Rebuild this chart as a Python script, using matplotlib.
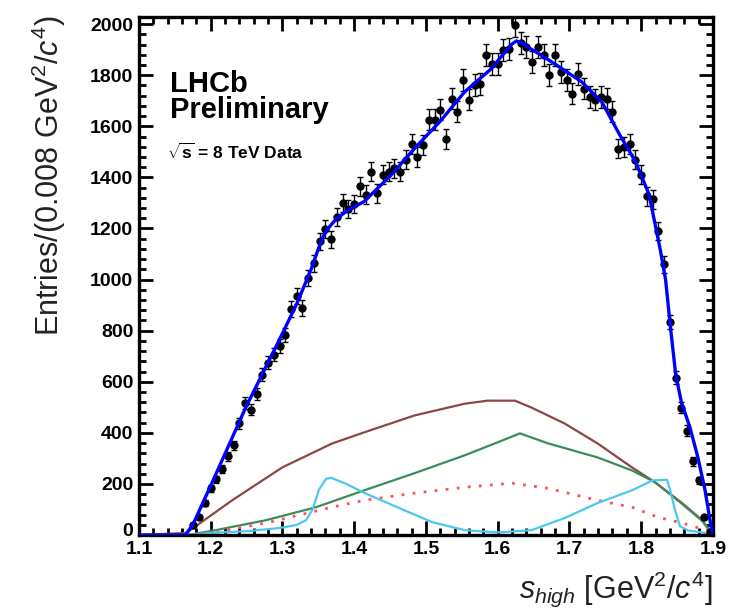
import numpy as np
import matplotlib
matplotlib.use("Agg")
import matplotlib.pyplot as plt
from matplotlib.ticker import MultipleLocator
from matplotlib.transforms import ScaledTranslation

# ROOT-like look: Helvetica metrics -> Liberation Sans
plt.rcParams['font.family'] = ['Liberation Sans', 'DejaVu Sans']
plt.rcParams['mathtext.fontset'] = 'custom'
plt.rcParams['mathtext.rm'] = 'Liberation Sans'
plt.rcParams['mathtext.it'] = 'Liberation Sans:italic'
plt.rcParams['mathtext.bf'] = 'Liberation Sans:bold'

# binning: 0.008 GeV^2/c^4 from 1.1 to 1.9, first filled bin is number 9
bin_width = 0.008
x_start = 1.1
first_bin = 9

# data counts per bin
counts = [39, 70, 125, 183, 218, 257, 308, 351, 437, 518,
          491, 553, 628, 675, 706, 741, 784, 885, 936, 889,
          1006, 1064, 1150, 1197, 1158, 1244, 1300, 1277, 1296, 1365,
          1333, 1423, 1337, 1411, 1423, 1435, 1423, 1470, 1532, 1481,
          1528, 1626, 1626, 1665, 1552, 1708, 1657, 1782, 1704, 1762,
          1766, 1879, 1844, 1844, 1899, 1903, 1996, 1925, 1910, 1852,
          1910, 1879, 1801, 1879, 1813, 1782, 1727, 1805, 1747, 1715,
          1704, 1715, 1708, 1657, 1513, 1520, 1532, 1470, 1411, 1326,
          1314, 1189, 1060, 834, 616, 499, 409, 288, 214, 70, 10]

# total fit (blue)
total_x = [1.100, 1.165, 1.176, 1.202, 1.249, 1.295, 1.320, 1.340, 1.350, 1.357,
           1.365, 1.375, 1.389, 1.414, 1.450, 1.484, 1.520, 1.554, 1.591, 1.610,
           1.620, 1.626, 1.633, 1.645, 1.661, 1.690, 1.717, 1.745, 1.770, 1.792,
           1.811, 1.827, 1.834, 1.840, 1.848, 1.856, 1.868, 1.879, 1.889, 1.897,
           1.900]
total_y = [0, 0, 45, 205, 500, 760, 905, 1040, 1120, 1170,
           1205, 1237, 1267, 1306, 1405, 1513, 1620, 1735, 1825, 1890,
           1922, 1934, 1928, 1905, 1878, 1825, 1774, 1696, 1567, 1462,
           1333, 1111, 1000, 834, 630, 520, 421, 304, 175, 40,
           0]

# brown component
brown_x = [1.100, 1.166, 1.230, 1.300, 1.369, 1.414, 1.484, 1.554, 1.586, 1.624,
           1.647, 1.693, 1.739, 1.787, 1.819, 1.857, 1.885, 1.900]
brown_y = [0, 8, 136, 265, 358, 402, 468, 514, 526, 526,
           499, 437, 359, 265, 207, 125, 58, 0]

# green component
green_x = [1.100, 1.168, 1.207, 1.277, 1.347, 1.414, 1.484, 1.554, 1.600, 1.631,
           1.670, 1.739, 1.787, 1.819, 1.857, 1.885, 1.900]
green_y = [0, 0, 19, 58, 109, 175, 242, 312, 363, 398,
           359, 304, 253, 207, 122, 55, 0]

# red dotted component
red_x = [1.100, 1.168, 1.207, 1.277, 1.323, 1.369, 1.414, 1.484, 1.554, 1.620,
         1.670, 1.739, 1.787, 1.823, 1.857, 1.899, 1.900]
red_y = [0, 0, 12, 47, 78, 109, 136, 164, 187, 203,
         183, 136, 109, 70, 47, 12, 0]

# cyan component
cyan_x = [1.100, 1.168, 1.200, 1.250, 1.295, 1.319, 1.333, 1.342, 1.351, 1.361,
          1.368, 1.389, 1.414, 1.460, 1.508, 1.554, 1.600, 1.647, 1.693, 1.739,
          1.787, 1.816, 1.836, 1.840, 1.847, 1.854, 1.865, 1.885, 1.900]
cyan_y = [0, 0, 8, 15, 27, 39, 58, 100, 178, 220,
          224, 200, 165, 109, 51, 19, 10, 19, 66, 125,
          175, 214, 216, 180, 100, 35, 18, 10, 0]

counts = np.array(counts)
centers = x_start + bin_width * (np.arange(len(counts)) + first_bin + 0.5)
errors = np.sqrt(counts)

fig = plt.figure(figsize=(7.31, 6.13), dpi=100)
ax = fig.add_axes([0.190, 0.1272, 0.7853, 0.8451])

ax.plot(brown_x, brown_y, color='#8c4646', lw=1.6, zorder=2)
ax.plot(green_x, green_y, color='#3c8c5a', lw=1.6, zorder=2)
ax.plot(red_x, red_y, color='#ff5050', lw=2.0, linestyle=(0, (1, 3)), zorder=2)
ax.plot(cyan_x, cyan_y, color='#4cc8f0', lw=1.6, zorder=2)
ax.errorbar(centers, counts, yerr=errors, fmt='o', color='black', ms=5,
            elinewidth=1, capsize=2, capthick=1, zorder=3)
ax.plot(total_x, total_y, color='#0000ff', lw=2.4, zorder=4)

ax.set_xlim(1.1, 1.9)
ax.set_ylim(0, 2028)
ax.xaxis.set_major_locator(MultipleLocator(0.1))
ax.xaxis.set_minor_locator(MultipleLocator(0.02))
ax.yaxis.set_major_locator(MultipleLocator(200))
ax.yaxis.set_minor_locator(MultipleLocator(40))
ax.tick_params(which='both', direction='in', top=True, right=True, width=2)
ax.tick_params(which='major', length=10)
ax.tick_params(which='minor', length=5)
ax.tick_params(axis='x', pad=4)
ax.tick_params(axis='y', pad=4)
for sp in ax.spines.values():
    sp.set_linewidth(2.4)

ax.set_xticks(np.arange(1.1, 1.91, 0.1))
ax.set_xticklabels(['%.1f' % v for v in np.arange(1.1, 1.91, 0.1)],
                   fontsize=14, fontweight='bold')
ax.set_yticks(np.arange(0, 2001, 200))
ylabels = ax.set_yticklabels([str(v) for v in range(0, 2001, 200)],
                             fontsize=14, fontweight='bold')
# lift the "0" a little so it does not run into "1.1"
ylabels[0].set_transform(ylabels[0].get_transform() +
                         ScaledTranslation(0, 4 / 72, fig.dpi_scale_trans))

# labels
fig.text(0.067, 0.975, r'Entries/(0.008 GeV$^{2}$/$c^{4}$)', rotation=90,
         ha='center', va='top', fontsize=22, color='#222222')
fig.text(713 / 731, 1 - 598 / 613, r'$s_{high}$ [GeV$^{2}$/$c^{4}$]',
         ha='right', va='baseline', fontsize=22, color='#222222')

ax.text(170 / 731, 1 - 92 / 613, 'LHCb', transform=fig.transFigure,
        fontsize=21, fontweight='bold', va='baseline')
ax.text(170 / 731, 1 - 118 / 613, 'Preliminary', transform=fig.transFigure,
        fontsize=21, fontweight='bold', va='baseline')
ax.text(167 / 731, 1 - 159 / 613, r'$\sqrt{\mathbf{s}}$ = 8 TeV Data',
        transform=fig.transFigure, fontsize=12.5, fontweight='bold',
        va='baseline')

fig.savefig('out.png', dpi=100)
